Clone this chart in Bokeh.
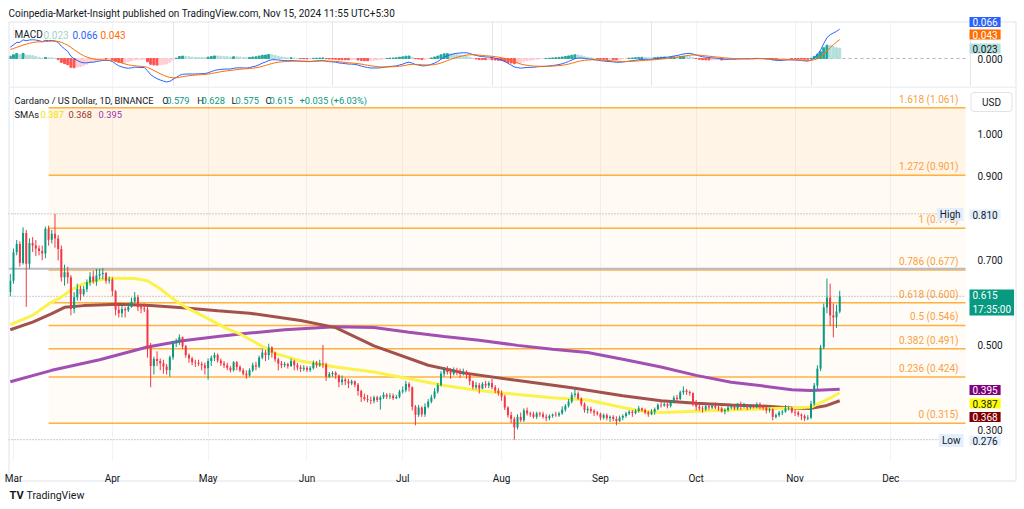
import numpy as np
import pandas as pd
from bokeh.plotting import figure
from bokeh.layouts import column
from bokeh.models import (ColumnDataSource, Range1d, FixedTicker, Label,
                          NumeralTickFormatter, Grid)
from bokeh.core.properties import value
from bokeh.embed import file_html
from bokeh.resources import INLINE

FONT = "Roboto"
TXT = "#131722"
UP = "#089981"
DOWN = "#f23645"

# ---------------- daily candles, ADA / USD ----------------
start_date = "2024-02-29"
first_open = 0.625

close_mar = [0.652, 0.719, 0.739, 0.694, 0.765, 0.692, 0.741, 0.735, 0.728, 0.722, 0.716, 0.775, 0.749, 0.763, 0.752, 0.727,
             0.660, 0.672, 0.660, 0.585, 0.613, 0.633, 0.620, 0.632, 0.648, 0.662, 0.650, 0.664, 0.668, 0.670, 0.652, 0.655]
high_mar = [0.668, 0.728, 0.748, 0.745, 0.778, 0.772, 0.752, 0.755, 0.748, 0.735, 0.735, 0.780, 0.782, 0.772, 0.810, 0.760,
            0.735, 0.690, 0.685, 0.665, 0.625, 0.645, 0.640, 0.640, 0.655, 0.672, 0.675, 0.680, 0.680, 0.682, 0.672, 0.662]
low_mar = [0.615, 0.645, 0.712, 0.685, 0.690, 0.590, 0.680, 0.720, 0.710, 0.712, 0.700, 0.705, 0.735, 0.740, 0.730, 0.700,
           0.650, 0.640, 0.645, 0.570, 0.575, 0.605, 0.605, 0.615, 0.625, 0.640, 0.645, 0.640, 0.655, 0.655, 0.645, 0.645]

close_apr = [0.627, 0.583, 0.575, 0.585, 0.582, 0.590, 0.603, 0.613, 0.589, 0.586, 0.584, 0.496, 0.450, 0.467, 0.462,
             0.457, 0.449, 0.441, 0.471, 0.505, 0.508, 0.518, 0.497, 0.476, 0.468, 0.459, 0.458, 0.455, 0.452, 0.445]
high_apr = [0.660, 0.630, 0.595, 0.595, 0.590, 0.600, 0.612, 0.625, 0.618, 0.595, 0.598, 0.590, 0.505, 0.472, 0.485,
            0.468, 0.465, 0.455, 0.475, 0.510, 0.515, 0.525, 0.520, 0.500, 0.480, 0.472, 0.465, 0.465, 0.460, 0.458]
low_apr = [0.615, 0.570, 0.565, 0.565, 0.565, 0.578, 0.588, 0.598, 0.580, 0.575, 0.578, 0.470, 0.400, 0.430, 0.450,
           0.440, 0.432, 0.430, 0.425, 0.465, 0.495, 0.500, 0.490, 0.470, 0.458, 0.452, 0.448, 0.450, 0.440, 0.430]

close_may = [0.462, 0.470, 0.476, 0.463, 0.456, 0.452, 0.446, 0.440, 0.459, 0.448, 0.440, 0.432, 0.428, 0.440, 0.452, 0.449,
             0.470, 0.482, 0.476, 0.494, 0.482, 0.466, 0.456, 0.452, 0.455, 0.450, 0.462, 0.452, 0.447, 0.443, 0.446]
high_may = [0.468, 0.475, 0.482, 0.480, 0.468, 0.462, 0.458, 0.450, 0.462, 0.462, 0.452, 0.445, 0.440, 0.445, 0.458, 0.460,
            0.475, 0.490, 0.488, 0.503, 0.497, 0.484, 0.470, 0.462, 0.460, 0.458, 0.468, 0.465, 0.458, 0.452, 0.452]
low_may = [0.418, 0.450, 0.462, 0.458, 0.450, 0.445, 0.440, 0.435, 0.437, 0.440, 0.436, 0.428, 0.420, 0.425, 0.436, 0.440,
           0.445, 0.466, 0.462, 0.465, 0.470, 0.460, 0.440, 0.445, 0.447, 0.444, 0.448, 0.440, 0.440, 0.436, 0.438]

close_jun = [0.441, 0.445, 0.458, 0.452, 0.456, 0.454, 0.425, 0.431, 0.434, 0.428, 0.412, 0.418, 0.414, 0.409, 0.414,
             0.406, 0.391, 0.377, 0.372, 0.370, 0.368, 0.376, 0.370, 0.376, 0.382, 0.378, 0.380, 0.374, 0.377, 0.390]
high_jun = [0.450, 0.450, 0.463, 0.462, 0.465, 0.500, 0.458, 0.436, 0.438, 0.438, 0.430, 0.428, 0.422, 0.420, 0.418,
            0.416, 0.410, 0.394, 0.385, 0.382, 0.378, 0.380, 0.380, 0.380, 0.388, 0.386, 0.386, 0.385, 0.382, 0.394]
low_jun = [0.436, 0.436, 0.442, 0.446, 0.448, 0.445, 0.415, 0.422, 0.425, 0.420, 0.400, 0.405, 0.405, 0.398, 0.405,
           0.400, 0.380, 0.365, 0.368, 0.364, 0.360, 0.362, 0.365, 0.347, 0.372, 0.372, 0.372, 0.370, 0.372, 0.374]

close_jul = [0.393, 0.408, 0.400, 0.354, 0.335, 0.352, 0.336, 0.354, 0.366, 0.376, 0.390, 0.405, 0.432, 0.442, 0.436, 0.432,
             0.440, 0.436, 0.432, 0.437, 0.430, 0.414, 0.400, 0.405, 0.397, 0.408, 0.404, 0.410, 0.400, 0.392, 0.386]
high_jul = [0.402, 0.415, 0.412, 0.402, 0.358, 0.358, 0.355, 0.362, 0.372, 0.382, 0.398, 0.410, 0.438, 0.448, 0.450, 0.445,
            0.447, 0.446, 0.444, 0.444, 0.440, 0.434, 0.416, 0.412, 0.410, 0.412, 0.415, 0.414, 0.420, 0.405, 0.398]
low_jul = [0.385, 0.388, 0.390, 0.345, 0.310, 0.330, 0.330, 0.330, 0.350, 0.362, 0.372, 0.385, 0.402, 0.425, 0.430, 0.420,
           0.428, 0.428, 0.422, 0.428, 0.420, 0.405, 0.395, 0.395, 0.385, 0.395, 0.398, 0.398, 0.395, 0.386, 0.380]

close_aug = [0.378, 0.352, 0.334, 0.325, 0.305, 0.330, 0.322, 0.345, 0.338, 0.336, 0.330, 0.338, 0.336, 0.330, 0.327, 0.332,
             0.335, 0.334, 0.338, 0.347, 0.356, 0.366, 0.382, 0.385, 0.373, 0.360, 0.346, 0.349, 0.344, 0.340, 0.337]
high_aug = [0.392, 0.382, 0.355, 0.342, 0.330, 0.336, 0.340, 0.350, 0.352, 0.342, 0.342, 0.342, 0.342, 0.342, 0.336, 0.336,
            0.338, 0.342, 0.342, 0.355, 0.360, 0.372, 0.388, 0.396, 0.390, 0.376, 0.364, 0.355, 0.354, 0.348, 0.344]
low_aug = [0.368, 0.346, 0.328, 0.315, 0.276, 0.300, 0.318, 0.318, 0.333, 0.330, 0.326, 0.325, 0.330, 0.326, 0.320, 0.322,
           0.328, 0.330, 0.330, 0.335, 0.342, 0.352, 0.362, 0.376, 0.370, 0.355, 0.340, 0.338, 0.338, 0.332, 0.333]

close_sep = [0.328, 0.334, 0.327, 0.330, 0.325, 0.320, 0.328, 0.332, 0.338, 0.342, 0.339, 0.344, 0.350, 0.346, 0.340,
             0.336, 0.342, 0.348, 0.358, 0.357, 0.360, 0.356, 0.365, 0.375, 0.372, 0.388, 0.392, 0.389, 0.386, 0.362]
high_sep = [0.340, 0.338, 0.338, 0.333, 0.334, 0.331, 0.333, 0.336, 0.342, 0.346, 0.346, 0.348, 0.356, 0.352, 0.350,
            0.344, 0.348, 0.352, 0.362, 0.365, 0.364, 0.363, 0.370, 0.380, 0.382, 0.392, 0.402, 0.396, 0.392, 0.388]
low_sep = [0.322, 0.324, 0.322, 0.318, 0.320, 0.310, 0.318, 0.322, 0.328, 0.334, 0.330, 0.336, 0.340, 0.342, 0.336,
           0.330, 0.334, 0.335, 0.346, 0.352, 0.354, 0.350, 0.352, 0.362, 0.368, 0.370, 0.382, 0.382, 0.380, 0.355]

close_oct = [0.354, 0.350, 0.348, 0.355, 0.352, 0.356, 0.352, 0.350, 0.343, 0.346, 0.352, 0.355, 0.350, 0.359, 0.354, 0.356,
             0.352, 0.356, 0.355, 0.360, 0.354, 0.352, 0.345, 0.348, 0.330, 0.334, 0.340, 0.342, 0.350, 0.351, 0.342]
high_oct = [0.370, 0.360, 0.356, 0.358, 0.358, 0.360, 0.364, 0.356, 0.354, 0.350, 0.356, 0.358, 0.358, 0.363, 0.366, 0.363,
            0.360, 0.360, 0.360, 0.364, 0.364, 0.358, 0.354, 0.352, 0.350, 0.338, 0.344, 0.346, 0.358, 0.356, 0.354]
low_oct = [0.345, 0.345, 0.340, 0.344, 0.346, 0.348, 0.348, 0.344, 0.340, 0.336, 0.342, 0.348, 0.346, 0.346, 0.346, 0.350,
           0.346, 0.348, 0.350, 0.350, 0.348, 0.346, 0.338, 0.340, 0.322, 0.326, 0.330, 0.334, 0.340, 0.345, 0.338]

close_nov = [0.340, 0.335, 0.332, 0.326, 0.328, 0.361, 0.404, 0.444, 0.494, 0.589, 0.612, 0.570, 0.565, 0.579, 0.615]
high_nov = [0.348, 0.344, 0.338, 0.336, 0.334, 0.368, 0.410, 0.452, 0.500, 0.598, 0.657, 0.645, 0.598, 0.595, 0.628]
low_nov = [0.332, 0.330, 0.322, 0.320, 0.322, 0.325, 0.356, 0.396, 0.438, 0.490, 0.575, 0.545, 0.518, 0.540, 0.575]

# ---------------- moving averages ----------------
sma50_dates = ["2024-02-29", "2024-03-07", "2024-03-12", "2024-03-16", "2024-03-19", "2024-03-23", "2024-03-28",
               "2024-04-01", "2024-04-08", "2024-04-12", "2024-04-16", "2024-04-20", "2024-04-24", "2024-04-28",
               "2024-05-02", "2024-05-07", "2024-05-11", "2024-05-22", "2024-05-30", "2024-06-10", "2024-06-22",
               "2024-07-03", "2024-07-14", "2024-07-25", "2024-08-06", "2024-08-17", "2024-08-28", "2024-09-08",
               "2024-09-14", "2024-09-20", "2024-10-01", "2024-10-12", "2024-10-23", "2024-10-31", "2024-11-06",
               "2024-11-12", "2024-11-15"]
sma50_vals = [0.548, 0.570, 0.597, 0.613, 0.630, 0.645, 0.654, 0.658, 0.657, 0.652, 0.633, 0.609, 0.589, 0.574,
              0.558, 0.538, 0.526, 0.480, 0.462, 0.448, 0.436, 0.420, 0.404, 0.392, 0.383, 0.375, 0.370, 0.352,
              0.344, 0.340, 0.343, 0.346, 0.349, 0.351, 0.353, 0.374, 0.387]

sma100_dates = ["2024-02-29", "2024-03-07", "2024-03-13", "2024-03-17", "2024-03-23", "2024-04-03", "2024-04-13",
                "2024-04-23", "2024-05-04", "2024-05-14", "2024-05-30", "2024-06-10", "2024-06-22", "2024-07-09",
                "2024-07-20", "2024-08-05", "2024-08-23", "2024-09-08", "2024-09-20", "2024-10-01", "2024-10-12",
                "2024-10-23", "2024-10-31", "2024-11-06", "2024-11-11", "2024-11-15"]
sma100_vals = [0.536, 0.554, 0.574, 0.589, 0.593, 0.596, 0.593, 0.588, 0.581, 0.575, 0.558, 0.541, 0.498, 0.452,
               0.434, 0.417, 0.399, 0.380, 0.368, 0.362, 0.358, 0.355, 0.351, 0.350, 0.357, 0.368]

sma200_dates = ["2024-02-29", "2024-03-13", "2024-03-28", "2024-04-12", "2024-04-23", "2024-05-04", "2024-05-14",
                "2024-05-25", "2024-06-10", "2024-06-22", "2024-07-03", "2024-07-14", "2024-07-25", "2024-08-06",
                "2024-08-17", "2024-08-28", "2024-09-08", "2024-09-20", "2024-10-01", "2024-10-12", "2024-10-23",
                "2024-10-31", "2024-11-06", "2024-11-15"]
sma200_vals = [0.413, 0.440, 0.465, 0.495, 0.510, 0.520, 0.528, 0.536, 0.543, 0.541, 0.530, 0.520, 0.511, 0.499,
               0.490, 0.482, 0.466, 0.448, 0.428, 0.412, 0.402, 0.394, 0.392, 0.395]

# ---------------- Fibonacci retracement ----------------
fib_start = "2024-03-12"
fib_level_labels = ["0", "0.236", "0.382", "0.5", "0.618", "0.786", "1", "1.272", "1.618"]
fib_prices = [0.315, 0.424, 0.491, 0.546, 0.600, 0.677, 0.776, 0.901, 1.061]

# horizontal marks
high_price = 0.810
low_price = 0.276
last_price = 0.615
hline_price = 0.680

macd_seed_ema12 = 0.625
macd_seed_ema26 = 0.600
macd_seed_signal = 0.019

# axis ticks
month_starts = ["2024-03-01", "2024-04-01", "2024-05-01", "2024-06-01", "2024-07-01", "2024-08-01",
                "2024-09-01", "2024-10-01", "2024-11-01", "2024-12-01"]
month_labels = ["Mar", "Apr", "May", "Jun", "Jul", "Aug", "Sep", "Oct", "Nov", "Dec"]
price_ticks = [0.3, 0.5, 0.7, 0.9, 1.0]

# ---------------- derived ----------------
REF = pd.Timestamp("2024-03-01")


def to_day(ds):
    return np.asarray((pd.to_datetime(ds) - REF).days, dtype=float)


closes = np.array(close_mar + close_apr + close_may + close_jun + close_jul + close_aug + close_sep + close_oct + close_nov)
highs = np.array(high_mar + high_apr + high_may + high_jun + high_jul + high_aug + high_sep + high_oct + high_nov)
lows = np.array(low_mar + low_apr + low_may + low_jun + low_jul + low_aug + low_sep + low_oct + low_nov)
opens = np.concatenate([[first_open], closes[:-1]])
dates = pd.date_range(start_date, periods=len(closes), freq="D")
day = to_day(dates)
ccol = np.where(closes >= opens, UP, DOWN)
candles = ColumnDataSource(dict(x=day, high=highs, low=lows,
                                top=np.maximum(opens, closes), bottom=np.minimum(opens, closes),
                                color=ccol))

# MACD from the closes
a12, a26, a9 = 2 / 13, 2 / 27, 2 / 10
e12, e26, sg = macd_seed_ema12, macd_seed_ema26, macd_seed_signal
macd, signal = [], []
for c in closes:
    e12 += a12 * (c - e12)
    e26 += a26 * (c - e26)
    mv = e12 - e26
    sg += a9 * (mv - sg)
    macd.append(mv)
    signal.append(sg)
macd = np.array(macd)
signal = np.array(signal)
hist = macd - signal
prev = np.concatenate([[hist[0]], hist[:-1]])
hcol = np.where(hist >= 0, np.where(hist >= prev, "#26a69a", "#b2dfdb"),
                np.where(hist < prev, "#ff5252", "#ffcdd2"))
hsrc = ColumnDataSource(dict(x=day, top=hist, color=hcol))
month_ticks = [float(t) for t in to_day(month_starts)]

# ---------------- page geometry (page pixels -> data) ----------------
W = 1024
PX_PER_DAY = 3.19
X_MAR1 = 13.0          # page x of 1 March


def xd(px):
    return (px - X_MAR1) / PX_PER_DAY


def yp(py):            # price pane: page y -> price
    return 1.0 - (py - 133.0) / 422.9


def ym(py):            # MACD pane: page y -> MACD value
    return (58.0 - py) / 447.0


XR = Range1d(xd(0), xd(W))
GRID = "#f0f3fa"
BORDER = "#e0e3eb"


def add_label(fig, fig_bottom, text, px, py, color, size="10px", align="left", bg=None, pad=(3, 1),
              border=None, bold=False):
    kw = dict(x=px, y=fig_bottom - py, x_units="screen", y_units="screen", text=text,
              text_color=color, text_font=FONT, text_font_size=size,
              text_align=align, text_baseline="middle",
              text_font_style="bold" if bold else "normal")
    if bg is not None:
        kw.update(background_fill_color=bg, background_fill_alpha=1.0, padding=pad)
    if border is not None:
        kw.update(border_line_color=border, border_line_width=1, border_radius=3)
    fig.add_layout(Label(**kw))


def plain(fig):
    fig.background_fill_color = "white"
    fig.border_fill_color = "white"
    fig.outline_line_color = None


# ---------------- top strip + MACD pane (page y 0-86) ----------------
M_T, M_B = 21, 86
m = figure(width=W, height=M_B, x_range=XR, y_range=Range1d(ym(M_B), ym(0)), min_border=0,
           output_backend="svg", toolbar_location=None, x_axis_location=None, y_axis_location="right")
plain(m)
m.ygrid.visible = False
m.add_layout(Grid(dimension=0, ticker=FixedTicker(ticks=month_ticks), grid_line_color=GRID))
m.yaxis.fixed_location = xd(965)
m.yaxis.ticker = FixedTicker(ticks=[0.0])
m.yaxis.formatter = NumeralTickFormatter(format="0.000")
m.yaxis.axis_line_color = None
m.yaxis.major_tick_line_color = None
m.yaxis.minor_tick_line_color = None
m.yaxis.major_label_standoff = 6
m.yaxis.major_label_text_font = FONT
m.yaxis.major_label_text_font_size = "10px"
m.yaxis.major_label_text_color = TXT
# white strip above the pane (title area, hides grid)
m.quad(left=xd(0), right=xd(W), bottom=ym(M_T), top=ym(0), fill_color="white", line_color=None)
m.segment(x0=xd(8), x1=xd(965), y0=0, y1=0, line_color="#b2b5be", line_dash="3 3", line_width=1)
m.vbar(x="x", top="top", bottom=0, width=0.62, color="color", source=hsrc)
m.line(day, macd, line_color="#2962ff", line_width=1)
m.line(day, signal, line_color="#ff6d00", line_width=1)
# chart frame
m.segment(x0=[xd(8.5), xd(1015.5)], x1=[xd(8.5), xd(1015.5)], y0=ym(M_B), y1=ym(21.5), line_color=BORDER)
m.segment(x0=xd(8.5), x1=xd(1015.5), y0=ym(21.5), y1=ym(21.5), line_color=BORDER)

add_label(m, M_B, "Coinpedia-Market-Insight published on TradingView.com, Nov 15, 2024 11:55 UTC+5:30",
          8, 12.5, TXT, size="10px")
add_label(m, M_B, "MACD", 14, 34, TXT)
for t, x, col in [("0.023", 43, "#9fd3cc"), ("0.066", 72, "#2962ff"), ("0.043", 100, "#ff6d00")]:
    add_label(m, M_B, t, x, 34, col)
add_label(m, M_B, "0.066", 969, 21.5, "white", bg="#2962ff")
add_label(m, M_B, "0.043", 969, 34, "white", bg="#ff6d00")
add_label(m, M_B, "0.023", 969, 48, TXT, bg="#b2dfdb")

# ---------------- price pane (page y 86-509) ----------------
P_T, P_B = 86, 509
p = figure(width=W, height=P_B - P_T, x_range=XR, y_range=Range1d(yp(P_B), yp(P_T)), min_border=0,
           output_backend="svg", toolbar_location=None, y_axis_location="right")
plain(p)
p.ygrid.visible = False
p.xgrid.ticker = FixedTicker(ticks=month_ticks)
p.xgrid.grid_line_color = GRID
p.xaxis.fixed_location = yp(460)
p.xaxis.ticker = FixedTicker(ticks=month_ticks)
p.xaxis.major_label_overrides = {t: lab for t, lab in zip(month_ticks, month_labels)}
p.xaxis.axis_line_color = None
p.xaxis.major_tick_line_color = None
p.xaxis.minor_tick_line_color = None
p.xaxis.major_label_standoff = 6
p.xaxis.major_label_text_font = FONT
p.xaxis.major_label_text_font_size = "10px"
p.xaxis.major_label_text_color = TXT
p.yaxis.fixed_location = xd(965)
p.yaxis.ticker = FixedTicker(ticks=price_ticks)
p.yaxis.formatter = NumeralTickFormatter(format="0.000")
p.yaxis.axis_line_color = None
p.yaxis.major_tick_line_color = None
p.yaxis.minor_tick_line_color = None
p.yaxis.major_label_standoff = 6
p.yaxis.major_label_text_font = FONT
p.yaxis.major_label_text_font_size = "10px"
p.yaxis.major_label_text_color = TXT

# white strip under the time scale (hides grid there)
p.quad(left=xd(0), right=xd(W), bottom=yp(P_B), top=yp(460), fill_color="white", line_color=None)

# fib bands, levels and labels
fs = float(to_day([fib_start])[0])
band_alpha = [0.03, 0.03, 0.03, 0.03, 0.03, 0.03, 0.05, 0.10]
p.quad(left=fs, right=xd(965), bottom=fib_prices[:-1], top=fib_prices[1:],
       fill_color="#ff9800", fill_alpha=band_alpha, line_color=None)
p.segment(x0=fs, x1=xd(965), y0=fib_prices, y1=fib_prices, line_color="#ff9800", line_alpha=0.75, line_width=1.5)
fib_text = [f"{lv} ({pr:.3f})" for lv, pr in zip(fib_level_labels, fib_prices)]
p.text(x=xd(958), y=fib_prices, text=fib_text, text_align="right",
       text_baseline="bottom", y_offset=-3, text_color="#f7a142", text_font=value(FONT),
       text_font_size="10px")

# horizontal reference lines
p.segment(x0=xd(8), x1=xd(965), y0=hline_price, y1=hline_price, line_color="#b8bbc3", line_width=2)
p.segment(x0=xd(8), x1=xd(940), y0=[high_price, low_price], y1=[high_price, low_price],
          line_color="#9598a1", line_width=1, line_dash="1 2")
p.segment(x0=xd(8), x1=xd(965), y0=last_price, y1=last_price, line_color="#9598a1", line_width=1, line_dash="1 2")

# moving averages
p.line(to_day(sma200_dates), sma200_vals, line_color="#a24fb3", line_width=3)
p.line(to_day(sma100_dates), sma100_vals, line_color="#a3514c", line_width=3)
p.line(to_day(sma50_dates), sma50_vals, line_color="#fbf24c", line_width=3)

# candles
p.segment(x0="x", x1="x", y0="high", y1="low", line_color="color", line_width=1, source=candles)
p.vbar(x="x", top="top", bottom="bottom", width=0.62, fill_color="color", line_color=None, source=candles)

# chart frame
p.segment(x0=[xd(8.5), xd(1015.5)], x1=[xd(8.5), xd(1015.5)], y0=yp(480.5), y1=yp(P_T), line_color=BORDER)
p.segment(x0=xd(8.5), x1=xd(1015.5), y0=[yp(86.5), yp(480.5)], y1=[yp(86.5), yp(480.5)], line_color=BORDER)

# legend header
LEG = "9.3px"
add_label(p, P_B, "Cardano / US Dollar, 1D, BINANCE", 14, 100, TXT, size=LEG)
for t, x, col in [("O", 161.7, TXT), ("0.579", 165.7, UP), ("H", 196.7, TXT), ("0.628", 201, UP),
                  ("L", 231, TXT), ("0.575", 235, UP), ("C", 265, TXT), ("0.615", 269, UP),
                  ("+0.035 (+6.03%)", 299, UP)]:
    add_label(p, P_B, t, x, 100, col, size=LEG)
add_label(p, P_B, "SMAs", 14, 113.5, TXT, size=LEG)
add_label(p, P_B, "0.387", 40, 113.5, "#f2e200", size=LEG)
add_label(p, P_B, "0.368", 68, 113.5, "#a0302c", size=LEG)
add_label(p, P_B, "0.395", 98, 113.5, "#9b30b0", size=LEG)

# price-scale tags
add_label(p, P_B, "USD", 991, 101.5, TXT, align="center", bg="white", pad=(11, 4), border=BORDER)
add_label(p, P_B, "High", 963, 214, TXT, align="right", bg="#e3effd")
add_label(p, P_B, "0.810", 969, 214, TXT, bg="#e3effd")
add_label(p, P_B, "0.615\n17:35:00", 969, 302, "white", bg=UP)
add_label(p, P_B, "0.395", 969, 389.5, "white", bg="#800080")
add_label(p, P_B, "0.387", 969, 403, TXT, bg="#ffff00")
add_label(p, P_B, "0.368", 969, 416.5, "white", bg="#800000")
add_label(p, P_B, "Low", 963, 440, TXT, align="right", bg="#e3effd")
add_label(p, P_B, "0.276", 969, 440, TXT, bg="#e3effd")

# footer
add_label(p, P_B, "TV", 9, 495, TXT, size="11px", bold=True)
add_label(p, P_B, "TradingView", 26, 495, TXT, size="10.5px")

layout = column(m, p)
open("out.html", "w").write(file_html(layout, INLINE))
